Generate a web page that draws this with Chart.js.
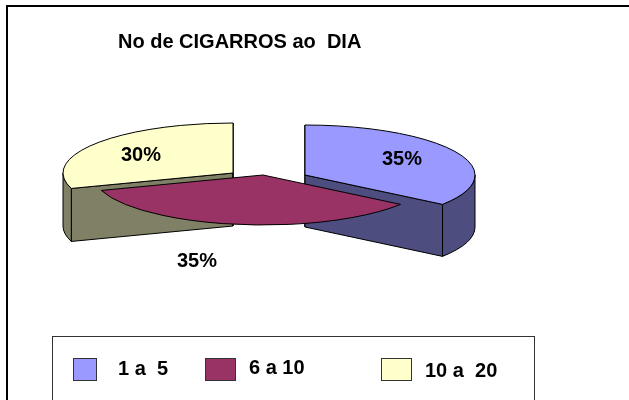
<!DOCTYPE html>
<html>
<head>
<meta charset="utf-8">
<title>No de CIGARROS ao DIA</title>
<script src="https://cdn.jsdelivr.net/npm/chart.js@4"></script>
<style>
  html, body { margin: 0; padding: 0; background: #fff; }
  canvas { display: block; }
</style>
</head>
<body>
<canvas id="pieChart" width="629" height="400"></canvas>
<script>
const categories = ['1 a  5', '6 a 10', '10 a  20'];
const percentages = [35, 35, 30];
const percentLabels = ['35%', '35%', '30%'];
const chartTitle = 'No de CIGARROS ao  DIA';

const topColors = ['#9999FF', '#993366', '#FFFFCC'];
const sideColors = ['#4D4D80', '#993366', '#808066'];

const FONT = '"Liberation Sans", Arial, sans-serif';
const RX = 170, RY = 50;

// where each exploded slice sits, its wall height and its label
const sliceCenters = [[305, 175], [263, 175], [233, 173]];
const sliceDepths = [52, 0, 53];
const labelSpots = [[402, 159], [197, 261], [141, 155]];
const drawOrder = [2, 0, 1];

// legend layout
const legendBox = [52, 336, 482, 70];
const legendSwatches = [[73, 358, 23, 22], [205, 358, 30, 22], [381, 358, 30, 22]];
const legendTexts = [[118, 369], [249, 368], [425, 371]];

function traceTop(ctx, c, arc) {
    ctx.beginPath();
    ctx.moveTo(c[0], c[1]);
    ctx.ellipse(c[0], c[1], RX, RY, 0, arc.startAngle, arc.endAngle);
    ctx.closePath();
}

function drawRadialFace(ctx, c, angle, depth) {
    const px = c[0] + RX * Math.cos(angle);
    const py = c[1] + RY * Math.sin(angle);
    ctx.beginPath();
    ctx.moveTo(c[0], c[1]);
    ctx.lineTo(px, py);
    ctx.lineTo(px, py + depth);
    ctx.lineTo(c[0], c[1] + depth);
    ctx.closePath();
    ctx.fill();
    ctx.stroke();
}

function drawWall(ctx, c, from, to, depth) {
    if (to <= from) return;
    ctx.beginPath();
    ctx.ellipse(c[0], c[1], RX, RY, 0, from, to);
    ctx.ellipse(c[0], c[1] + depth, RX, RY, 0, to, from, true);
    ctx.closePath();
    ctx.fill();
    ctx.stroke();
}

// Squashes the library's arcs into exploded 3D slices
const pie3d = {
    id: 'pie3d',
    beforeDatasetDraw(chart, args) {
        const ctx = chart.ctx;
        drawOrder.forEach(i => {
            const arc = args.meta.data[i];
            const c = sliceCenters[i];
            const depth = sliceDepths[i];
            ctx.save();
            ctx.strokeStyle = '#000';
            ctx.lineWidth = 1;
            if (depth > 0) {
                ctx.fillStyle = sideColors[i];
                drawRadialFace(ctx, c, arc.startAngle, depth);
                drawRadialFace(ctx, c, arc.endAngle, depth);
                drawWall(ctx, c, Math.max(arc.startAngle, 0), Math.min(arc.endAngle, Math.PI), depth);
            }
            ctx.save();
            ctx.translate(c[0], c[1]);
            ctx.scale(RX / arc.outerRadius, RY / arc.outerRadius);
            ctx.translate(-arc.x, -arc.y);
            arc.draw(ctx);
            ctx.restore();
            traceTop(ctx, c, arc);
            ctx.stroke();
            ctx.restore();
        });
        return false;
    },
    afterDraw(chart) {
        const ctx = chart.ctx;
        ctx.save();
        ctx.fillStyle = '#000';
        ctx.textBaseline = 'middle';
        ctx.textAlign = 'center';
        ctx.font = 'bold 20px ' + FONT;
        percentLabels.forEach((t, i) => ctx.fillText(t, labelSpots[i][0], labelSpots[i][1]));

        ctx.strokeStyle = '#333';
        ctx.lineWidth = 1;
        ctx.strokeRect(legendBox[0] + 0.5, legendBox[1] + 0.5, legendBox[2], legendBox[3]);
        ctx.textAlign = 'left';
        ctx.font = 'bold 20px ' + FONT;
        categories.forEach((name, i) => {
            const s = legendSwatches[i];
            ctx.fillStyle = topColors[i];
            ctx.fillRect(s[0], s[1], s[2], s[3]);
            ctx.strokeRect(s[0] + 0.5, s[1] + 0.5, s[2], s[3]);
            ctx.fillStyle = '#000';
            ctx.fillText(name, legendTexts[i][0], legendTexts[i][1]);
        });

        // chart frame, open on the right
        ctx.strokeStyle = '#000';
        ctx.lineWidth = 2;
        ctx.beginPath();
        ctx.moveTo(7, 400);
        ctx.lineTo(7, 6);
        ctx.lineTo(629, 6);
        ctx.stroke();
        ctx.restore();
    }
};

new Chart(document.getElementById('pieChart').getContext('2d'), {
    type: 'pie',
    data: {
        labels: categories,
        datasets: [{
            data: percentages,
            backgroundColor: topColors,
            borderWidth: 0
        }]
    },
    options: {
        responsive: false,
        animation: false,
        layout: { padding: { left: 118, top: 30 } },
        plugins: {
            legend: { display: false },
            tooltip: { enabled: false },
            title: {
                display: true,
                text: chartTitle,
                align: 'start',
                color: '#000',
                font: { family: FONT, size: 20, weight: 'bold' },
                padding: 0
            }
        }
    },
    plugins: [pie3d]
});
</script>
</body>
</html>
